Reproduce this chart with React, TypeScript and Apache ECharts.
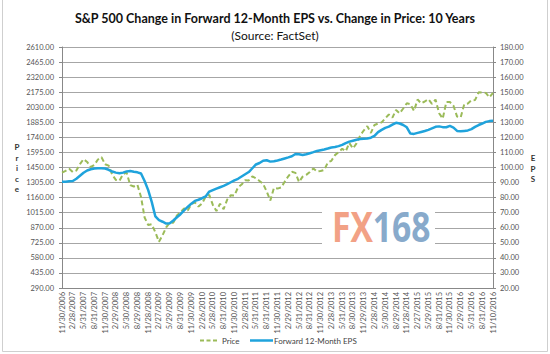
import React, { useEffect, useRef } from "react";
import * as echarts from "echarts";

const tickLabels = [
  "11/30/2006", "2/28/2007", "5/31/2007", "8/31/2007", "11/30/2007",
  "2/29/2008", "5/30/2008", "8/29/2008", "11/28/2008", "2/27/2009",
  "5/29/2009", "8/31/2009", "11/30/2009", "2/26/2010", "5/28/2010",
  "8/31/2010", "11/30/2010", "2/28/2011", "5/31/2011", "8/31/2011",
  "11/30/2011", "2/29/2012", "5/31/2012", "8/31/2012", "11/30/2012",
  "2/28/2013", "5/31/2013", "8/30/2013", "11/29/2013", "2/28/2014",
  "5/30/2014", "8/29/2014", "11/28/2014", "2/27/2015", "5/29/2015",
  "8/31/2015", "11/30/2015", "2/29/2016", "5/31/2016", "8/31/2016",
  "11/10/2016",
];

const priceValues = [
  1400.6, 1418.3,
  1438.2, 1406.8, 1420.9, 1482.4, 1530.6, 1503.4, 1455.3, 1474.0, 1526.8, 1549.4, 1481.1, 1468.4,
  1378.6, 1330.6, 1322.7, 1385.6, 1400.4, 1280.0, 1267.4, 1282.8, 1166.4, 968.8, 896.2, 903.3,
  825.9, 735.1, 797.9, 872.8, 919.1, 919.3, 987.5, 1020.6, 1057.1, 1036.2, 1095.6, 1115.1,
  1073.9, 1104.5, 1169.4, 1186.7, 1089.4, 1030.7, 1101.6, 1049.3, 1141.2, 1183.3, 1180.6, 1257.6,
  1286.1, 1327.2, 1325.8, 1363.6, 1345.2, 1320.6, 1292.3, 1218.9, 1131.4, 1253.3, 1247.0, 1257.6,
  1312.4, 1365.7, 1408.5, 1397.9, 1310.3, 1362.2, 1379.3, 1406.6, 1440.7, 1412.2, 1416.2, 1426.2,
  1498.1, 1514.7, 1569.2, 1597.6, 1630.7, 1606.3, 1685.7, 1633.0, 1681.6, 1756.5, 1805.8, 1848.4,
  1782.6, 1859.5, 1872.3, 1884.0, 1923.6, 1960.2, 1930.7, 2003.4, 1972.3, 2018.1, 2067.6, 2058.9,
  1995.0, 2104.5, 2067.9, 2085.5, 2107.4, 2063.1, 2103.8, 1972.2, 1920.0, 2079.4, 2080.4, 2043.9,
  1940.2, 1932.2, 2059.7, 2065.3, 2097.0, 2098.9, 2173.6, 2171.0, 2168.3, 2126.2, 2167.5,
];

const epsValues = [
  90.6, 90.6, 90.8, 91.0, 92.5, 94.5, 96.5, 98.0, 98.8, 99.3,
  99.5, 99.5, 99.3, 98.5, 97.3, 96.6, 96.2, 96.6, 97.4, 97.7,
  97.2, 96.8, 96.0, 91.0, 85.0, 77.0, 67.5, 65.0, 64.0, 62.8,
  63.0, 64.8, 67.0, 69.0, 71.5, 73.8, 76.0, 77.8, 78.6, 79.6,
  80.8, 84.0, 85.0, 86.0, 86.9, 87.8, 88.9, 90.2, 91.5, 92.5,
  94.0, 95.5, 97.0, 99.5, 102.0, 103.0, 104.5, 104.8, 103.9, 104.2,
  104.7, 105.3, 106.0, 106.7, 107.5, 109.0, 108.8, 108.3, 108.8, 109.5,
  110.2, 111.0, 111.5, 112.0, 112.6, 113.3, 113.6, 114.2, 115.0, 116.2,
  117.2, 117.8, 118.4, 118.9, 119.1, 119.3, 119.8, 121.0, 123.5, 125.0,
  126.3, 127.1, 128.5, 129.7, 129.2, 128.2, 126.7, 122.5, 122.3, 123.0,
  123.6, 124.2, 125.0, 126.0, 127.0, 127.3, 126.8, 126.7, 127.6, 126.5,
  124.3, 124.0, 124.3, 124.6, 125.5, 127.0, 128.2, 129.2, 130.3, 130.8,
  131.0,
];

const seriesNames = ["Price", "Forward 12-Month EPS"];

const categories = priceValues.map((_, i) => (i % 3 === 0 ? tickLabels[i / 3] : "m" + i));

const FONT = "Lato";
const PRICE_COLOR = "#9bbb59";
const EPS_COLOR = "#1fa3dc";

export default function App() {
  const ref = useRef<HTMLDivElement>(null);
  useEffect(() => {
    const chart = echarts.init(ref.current!, null, { renderer: "svg" });
    chart.setOption({
      animation: false,
      backgroundColor: "#ffffff",
      title: [
        {
          text: "S&P 500 Change in Forward 12-Month EPS vs. Change in Price: 10 Years",
          left: "center",
          top: 7,
          textStyle: { fontFamily: FONT, fontWeight: "bold", fontSize: 12.5, color: "#111" },
        },
        {
          text: "(Source: FactSet)",
          left: "center",
          top: 24,
          textStyle: { fontFamily: FONT, fontWeight: "normal", fontSize: 12, color: "#111" },
        },
      ],
      grid: { left: 62, right: 57, top: 47, bottom: 66, containLabel: false },
      xAxis: {
        type: "category",
        boundaryGap: false,
        data: categories,
        axisLine: { lineStyle: { color: "#888", width: 1 } },
        axisTick: { show: false },
        axisLabel: {
          rotate: 90,
          interval: (i: number) => i % 3 === 0,
          fontFamily: FONT,
          fontSize: 7.5,
          color: "#555",
          margin: 4,
        },
      },
      yAxis: [
        {
          type: "value",
          min: 290,
          max: 2610,
          interval: 145,
          axisLine: { show: true, lineStyle: { color: "#888" } },
          axisTick: { show: true, length: 3, lineStyle: { color: "#888" } },
          splitLine: { lineStyle: { color: "#a6a6a6", width: 1 } },
          axisLabel: {
            formatter: (v: number) => v.toFixed(2),
            fontFamily: FONT,
            fontSize: 7.5,
            color: "#555",
            margin: 8,
          },
        },
        {
          type: "value",
          min: 20,
          max: 180,
          interval: 10,
          axisLine: { show: true, lineStyle: { color: "#888" } },
          axisTick: { show: true, length: 3, lineStyle: { color: "#888" } },
          splitLine: { show: false },
          axisLabel: {
            formatter: (v: number) => v.toFixed(2),
            fontFamily: FONT,
            fontSize: 7.5,
            color: "#555",
            margin: 7,
          },
        },
      ],
      series: [
        {
          name: seriesNames[0],
          type: "line",
          yAxisIndex: 0,
          data: priceValues,
          showSymbol: false,
          symbol: "none",
          color: PRICE_COLOR,
          lineStyle: { color: PRICE_COLOR, width: 2, type: [5, 3] },
          z: 2,
        },
        {
          name: seriesNames[1],
          type: "line",
          yAxisIndex: 1,
          data: epsValues,
          showSymbol: false,
          symbol: "none",
          color: EPS_COLOR,
          lineStyle: { color: EPS_COLOR, width: 2.5 },
          z: 3,
        },
      ],
      graphic: [
        {
          type: "rect",
          shape: { x: 2.5, y: -3, width: 545, height: 354.5 },
          style: { fill: "none", stroke: "#cfcfcf", lineWidth: 1 },
          silent: true,
        },
        {
          type: "rect",
          shape: { x: 322, y: 203, width: 113, height: 47 },
          style: { fill: "#ffffff" },
          z: 10,
          silent: true,
        },
        {
          type: "text",
          x: 332,
          y: 225,
          scaleX: 0.8,
          z: 11,
          style: {
            text: "{a|FX}{b|168}",
            verticalAlign: "middle",
            rich: {
              a: { fontFamily: "Open Sans", fontWeight: "bold", fontSize: 42, fill: "#f2a185" },
              b: { fontFamily: "Open Sans", fontWeight: "bold", fontSize: 42, fill: "#88aacb" },
            },
          },
          silent: true,
        },
        {
          type: "text",
          x: 17,
          y: 142,
          style: {
            text: "P\nr\ni\nc\ne",
            align: "center",
            fontFamily: FONT,
            fontWeight: "bold",
            fontSize: 8,
            lineHeight: 10.5,
            fill: "#333",
          },
        },
        {
          type: "text",
          x: 533,
          y: 153,
          style: {
            text: "E\nP\nS",
            align: "center",
            fontFamily: FONT,
            fontWeight: "bold",
            fontSize: 8,
            lineHeight: 10.5,
            fill: "#333",
          },
        },
        {
          type: "line",
          shape: { x1: 200, y1: 340.5, x2: 218, y2: 340.5 },
          style: { stroke: PRICE_COLOR, lineWidth: 2, lineDash: [4, 2.5] },
        },
        {
          type: "text",
          x: 222,
          y: 340.5,
          style: {
            text: seriesNames[0],
            verticalAlign: "middle",
            fontFamily: FONT,
            fontSize: 8,
            fill: "#444",
          },
        },
        {
          type: "line",
          shape: { x1: 250, y1: 340.5, x2: 273, y2: 340.5 },
          style: { stroke: EPS_COLOR, lineWidth: 2.5 },
        },
        {
          type: "text",
          x: 274,
          y: 340.5,
          style: {
            text: seriesNames[1],
            verticalAlign: "middle",
            fontFamily: FONT,
            fontSize: 8,
            fill: "#444",
          },
        },
      ],
    });
    return () => chart.dispose();
  }, []);
  return <div ref={ref} style={{ position: "absolute", left: 0, top: 0, width: 550, height: 354 }} />;
}
